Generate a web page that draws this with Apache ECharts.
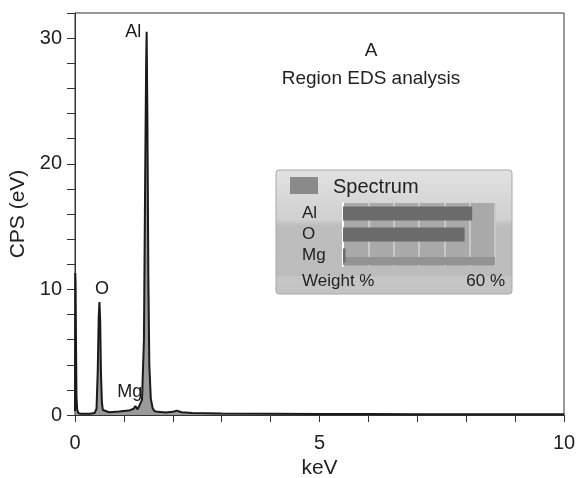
<!DOCTYPE html>
<html><head><meta charset="utf-8">
<script src="https://cdn.jsdelivr.net/npm/echarts@6/dist/echarts.min.js"></script>
<style>html,body{margin:0;padding:0;background:#fff}#c{width:577px;height:478px}</style>
</head><body><div id="c"></div>
<script>
// Spectrum (keV vs CPS)
const keV = [0.00,0.005,0.012,0.02,0.03,0.045,0.07,0.12,0.2,0.3,0.4,0.44,0.465,0.485,0.50,0.515,0.53,0.55,0.57,0.60,0.7,0.9,1.1,1.2,1.235,1.255,1.28,1.32,1.37,1.41,1.435,1.455,1.465,1.48,1.50,1.52,1.55,1.59,1.63,1.7,1.85,2.0,2.08,2.18,2.4,3,4,5,6,7,8,9,10];
const cps = [0.3,11.3,10.5,6,1.5,0.4,0.15,0.1,0.1,0.1,0.15,0.5,3.5,7.8,9.0,7.5,3.5,1.0,0.4,0.25,0.22,0.28,0.35,0.5,0.72,0.65,0.45,0.45,1.2,6,19,28,30.5,24,11,4,1.3,0.5,0.3,0.25,0.2,0.25,0.35,0.22,0.15,0.12,0.1,0.08,0.07,0.06,0.05,0.05,0.05];
// Peak labels
const peakNames = ['Al','O','Mg'];
const peakX = [1.19,0.55,1.12];
const peakY = [30.5,10.0,1.85];
// Inset weight %
const elements = ['Al','O','Mg'];
const weights = [51,48,1];

const chart = echarts.init(document.getElementById('c'));
const F = 'Liberation Sans, Arial, sans-serif';
chart.setOption({
  animation:false,
  textStyle:{fontFamily:F},
  title:[
    {text:'A',left:366,top:36,textAlign:'center',textStyle:{fontSize:19,fontWeight:'normal',color:'#222',fontFamily:F}},
    {text:'Region EDS analysis',left:366,top:64,textAlign:'center',textStyle:{fontSize:19,fontWeight:'normal',color:'#222',fontFamily:F}}
  ],
  graphic:[
    {type:'rect',z:0,shape:{x:276,y:170,width:236,height:124,r:3},style:{fill:new echarts.graphic.LinearGradient(0,0,0,1,[{offset:0,color:'#e2e2e2'},{offset:0.4,color:'#d0d0d0'},{offset:0.45,color:'#bdbdbd'},{offset:0.85,color:'#bcbcbc'},{offset:0.86,color:'#c6c6c6'},{offset:1,color:'#c2c2c2'}]),stroke:'#a8a8a8',lineWidth:1}},
    {type:'rect',z:1,shape:{x:290,y:177,width:28,height:17},style:{fill:'#8a8a8a'}},
    {type:'text',z:2,style:{x:333,y:187,text:'Spectrum',fontSize:20,fill:'#222',verticalAlign:'middle',fontFamily:F}},
    {type:'text',z:2,style:{x:302,y:281,text:'Weight %',fontSize:17,fill:'#222',verticalAlign:'middle',fontFamily:F}},
    {type:'text',z:2,style:{x:505,y:281,text:'60 %',fontSize:17,fill:'#222',align:'right',verticalAlign:'middle',fontFamily:F}},
    {type:'rect',z:5,shape:{x:343,y:257,width:152,height:8},style:{fill:'#939393'}}
  ],
  grid:[
    {left:75,right:13,top:13,bottom:63,show:true,borderColor:'#333',borderWidth:1,containLabel:false,outerBoundsMode:'none'},
    {left:343,top:203,width:152,height:63,show:true,backgroundColor:'#a9a9a9',borderWidth:0,z:3,containLabel:false,outerBoundsMode:'none'}
  ],
  xAxis:[
    {gridIndex:0,type:'value',min:0,max:10,interval:1,
     name:'keV',nameLocation:'middle',nameGap:41,nameTextStyle:{fontSize:21,color:'#222'},
     axisLine:{lineStyle:{color:'#333'}},axisTick:{length:7,lineStyle:{color:'#333'}},
     axisLabel:{fontSize:20,color:'#222',margin:18,formatter:v=>v%5===0?v:''},splitLine:{show:false}},
    {gridIndex:1,type:'value',min:0,max:60,interval:10,show:true,axisLine:{show:false},axisTick:{show:false},axisLabel:{show:false},
     splitLine:{show:true,lineStyle:{color:'#c8c8c8',width:2}},z:4}
  ],
  yAxis:[
    {gridIndex:0,type:'value',min:0,max:32,interval:2,
     name:'CPS (eV)',nameLocation:'middle',nameGap:43,nameTextStyle:{fontSize:21,color:'#222'},
     axisLine:{show:true,lineStyle:{color:'#333'}},axisTick:{show:true,length:8,lineStyle:{color:'#333'}},
     axisLabel:{fontSize:20,color:'#222',margin:13,formatter:v=>v%10===0?v:''},splitLine:{show:false}},
    {gridIndex:1,type:'category',data:elements,inverse:true,axisLine:{show:true,lineStyle:{color:'#fff',width:2}},axisTick:{show:false},
     axisLabel:{fontSize:17,color:'#222',align:'left',margin:41,interval:0},z:4}
  ],
  series:[
    {type:'line',xAxisIndex:0,yAxisIndex:0,data:keV.map((x,i)=>[x,cps[i]]),symbol:'none',
     lineStyle:{color:'#1a1a1a',width:2},areaStyle:{color:'#9a9a9a',opacity:1}},
    {type:'scatter',xAxisIndex:0,yAxisIndex:0,symbolSize:0,silent:true,data:peakNames.map((n,i)=>[peakX[i],peakY[i],n]),
     label:{show:true,position:'inside',formatter:p=>p.value[2],fontSize:18,color:'#1a1a1a',opacity:1,textBorderWidth:0}},
    {type:'bar',xAxisIndex:1,yAxisIndex:1,data:weights,barWidth:14,itemStyle:{color:'#6b6b6b'},z:6}
  ]
});
</script></body></html>
